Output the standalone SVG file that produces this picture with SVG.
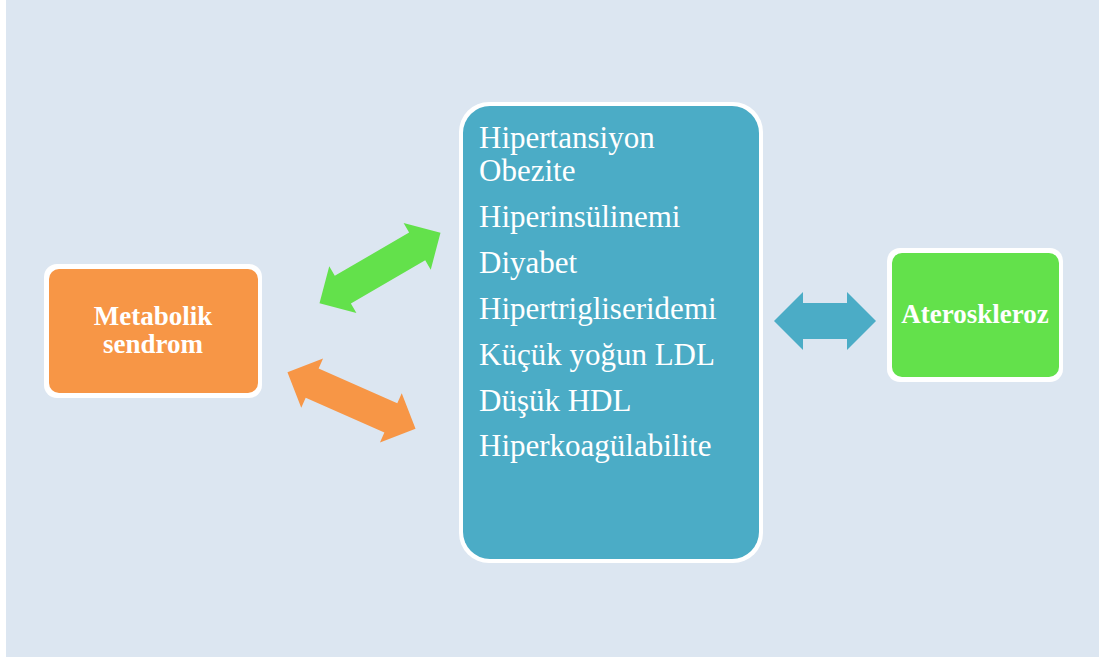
<svg xmlns="http://www.w3.org/2000/svg" width="1099" height="659" viewBox="0 0 1099 659">
  <defs>
    <!-- block double arrow, centred on the origin, pointing along x -->
    <polygon id="dbl-arrow" points="-70,0 -43,-27 -43,-16 43,-16 43,-27 70,0 43,27 43,16 -43,16 -43,27"/>
  </defs>
  <style>
    .frame { fill: #ffffff; }
    .label-bold { font-family: "Liberation Serif", "Times New Roman", serif; font-weight: bold; font-size: 27px; fill: #ffffff; text-anchor: middle; }
    .list { font-family: "Liberation Serif", "Times New Roman", serif; font-size: 31px; fill: #ffffff; }
  </style>

  <!-- page -->
  <rect x="0" y="0" width="1099" height="659" fill="#ffffff"/>
  <rect x="6" y="0" width="1093" height="657" fill="#dce6f1"/>

  <!-- connectors -->
  <g id="connectors">
    <use href="#dbl-arrow" fill="#63e14b" transform="translate(380,268) rotate(-30.2)"/>
    <use href="#dbl-arrow" fill="#f79646" transform="translate(351.5,400.5) rotate(23.8)"/>
    <polygon fill="#4bacc6" points="774,321 803,292 803,303 847,303 847,292 876,321 847,350 847,339 803,339 803,350"/>
  </g>

  <!-- Metabolik sendrom -->
  <g id="node-metabolik">
    <rect class="frame" x="44" y="264" width="218" height="134" rx="13"/>
    <rect x="49" y="269" width="209" height="124" rx="10" fill="#f79646"/>
    <text class="label-bold" x="153" y="325">Metabolik</text>
    <text class="label-bold" x="153" y="353">sendrom</text>
  </g>

  <!-- risk factors -->
  <g id="node-risk">
    <rect class="frame" x="459" y="102" width="304" height="461" rx="30"/>
    <rect x="463" y="106" width="296" height="453" rx="27" fill="#4bacc6"/>
    <text class="list" x="479" y="148">Hipertansiyon</text>
    <text class="list" x="479" y="181">Obezite</text>
    <text class="list" x="479" y="227">Hiperinsülinemi</text>
    <text class="list" x="479" y="273">Diyabet</text>
    <text class="list" x="479" y="319">Hipertrigliseridemi</text>
    <text class="list" x="479" y="365">Küçük yoğun LDL</text>
    <text class="list" x="479" y="411">Düşük HDL</text>
    <text class="list" x="479" y="456">Hiperkoagülabilite</text>
  </g>

  <!-- Ateroskleroz -->
  <g id="node-ateroskleroz">
    <rect class="frame" x="887" y="248" width="176" height="134" rx="13"/>
    <rect x="892" y="253" width="167" height="124" rx="10" fill="#63e14b"/>
    <text class="label-bold" x="975" y="323">Ateroskleroz</text>
  </g>
</svg>
